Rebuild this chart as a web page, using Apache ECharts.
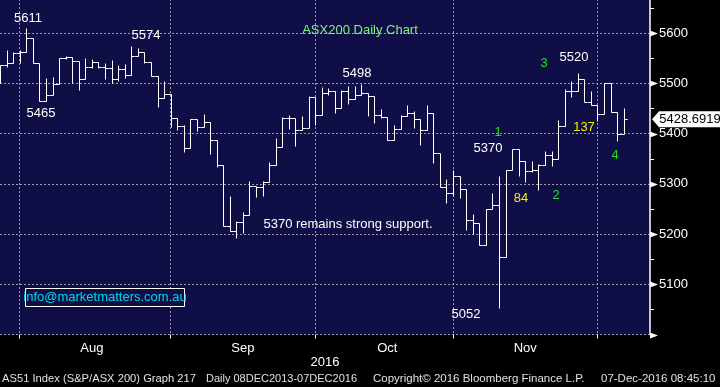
<!DOCTYPE html>
<html><head><meta charset="utf-8">
<script src="https://cdn.jsdelivr.net/npm/echarts@6/dist/echarts.min.js"></script>
<style>html,body{margin:0;padding:0;background:#000}#c{width:720px;height:387px}</style>
</head><body><div id="c"></div>
<script>
const dates = [
 '2016-07-27','2016-07-28','2016-07-29',
 '2016-08-01','2016-08-02','2016-08-03','2016-08-04','2016-08-05','2016-08-08','2016-08-09','2016-08-10','2016-08-11','2016-08-12',
 '2016-08-15','2016-08-16','2016-08-17','2016-08-18','2016-08-19','2016-08-22','2016-08-23','2016-08-24','2016-08-25','2016-08-26',
 '2016-08-29','2016-08-30','2016-08-31',
 '2016-09-01','2016-09-02','2016-09-05','2016-09-06','2016-09-07','2016-09-08','2016-09-09','2016-09-12','2016-09-13','2016-09-14',
 '2016-09-15','2016-09-16','2016-09-19','2016-09-20','2016-09-21','2016-09-22','2016-09-23','2016-09-26','2016-09-27','2016-09-28',
 '2016-09-29','2016-09-30',
 '2016-10-03','2016-10-04','2016-10-05','2016-10-06','2016-10-07','2016-10-10','2016-10-11','2016-10-12','2016-10-13','2016-10-14',
 '2016-10-17','2016-10-18','2016-10-19','2016-10-20','2016-10-21','2016-10-24','2016-10-25','2016-10-26','2016-10-27','2016-10-28',
 '2016-10-31',
 '2016-11-01','2016-11-02','2016-11-03','2016-11-04','2016-11-07','2016-11-08','2016-11-09','2016-11-10','2016-11-11','2016-11-14',
 '2016-11-15','2016-11-16','2016-11-17','2016-11-18','2016-11-21','2016-11-22','2016-11-23','2016-11-24','2016-11-25','2016-11-28',
 '2016-11-29','2016-11-30',
 '2016-12-01','2016-12-02','2016-12-05','2016-12-06','2016-12-07','2016-12-08','2016-12-09','2016-12-12','2016-12-13'
];
const open = [5500,5536,5540,5561,5563,5590,5540,5466,5476,5498, 5550,5553,5545,5508,5533,5543,5533,5530,5508,5528,
 5517,5555,5562,5542,5515,5470,5478,5432,5415,5372, 5430,5413,5424,5387,5338,5217,5207,5225,5238,5296,
 5293,5303,5338,5374,5432,5432,5407,5412,5473,5437, 5480,5485,5452,5485,5469,5477,5480,5475,5437,5433,
 5388,5410,5435,5442,5430,5408,5442,5361,5293,5281, 5316,5290,5228,5223,5179,5250,5257,5155,5328,5370,
 5345,5325,5328,5338,5358,5350,5415,5485,5485,5508, 5463,5458,5440,5500,5443,5400];
const high = [5536,5566,5563,5566,5611,5590,5540,5510,5512,5550, 5555,5553,5545,5550,5548,5543,5540,5546,5536,5538,
 5574,5570,5562,5542,5515,5504,5478,5432,5418,5430, 5430,5440,5424,5387,5338,5276,5226,5243,5306,5296,
 5306,5344,5392,5433,5437,5432,5435,5474,5473,5492, 5490,5485,5486,5495,5495,5498,5480,5475,5449,5433,
 5418,5438,5458,5446,5430,5457,5442,5361,5310,5328, 5316,5290,5240,5223,5250,5281,5315,5328,5370,5370,
 5345,5345,5340,5366,5366,5427,5488,5505,5520,5508, 5485,5458,5500,5500,5443,5452];
const low = [5500,5533,5540,5540,5563,5540,5465,5466,5476,5498, 5548,5500,5486,5508,5530,5530,5508,5500,5505,5510,
 5517,5555,5540,5515,5453,5470,5413,5408,5363,5372, 5405,5413,5359,5333,5216,5206,5193,5203,5238,5273,
 5276,5303,5338,5374,5410,5375,5407,5412,5418,5437, 5476,5442,5452,5460,5469,5477,5435,5421,5431,5388,
 5388,5410,5435,5411,5377,5408,5341,5293,5261,5276, 5272,5208,5201,5178,5179,5250,5052,5155,5328,5315,
 5303,5323,5288,5338,5335,5350,5415,5473,5485,5463, 5457,5425,5440,5443,5385,5400];
const close = [5536,5540,5561,5563,5590,5540,5466,5476,5498,5550, 5553,5545,5508,5533,5543,5533,5530,5508,5528,5517,
 5555,5562,5542,5515,5470,5478,5432,5415,5372,5430, 5413,5424,5387,5338,5217,5207,5225,5238,5296,5293,
 5303,5338,5374,5432,5432,5407,5412,5473,5437,5480, 5485,5452,5485,5469,5477,5480,5475,5437,5433,5388,
 5410,5435,5442,5430,5408,5442,5361,5293,5281,5316, 5290,5228,5223,5179,5250,5257,5155,5328,5370,5345,
 5325,5328,5338,5358,5350,5415,5485,5485,5508,5463, 5458,5440,5500,5443,5400,5428.6919];
const yTicks = [5000,5100,5200,5300,5400,5500,5600];
const yLabelTicks = [5100,5200,5300,5400,5500,5600];
const monthLabelDates = ['2016-08-16','2016-09-16','2016-10-18','2016-11-16'];
const monthNames = {'08':'Aug','09':'Sep','10':'Oct','11':'Nov','12':'Dec'};

const monthStartIdx = [];
dates.forEach((d,i)=>{ if(i>0 && d.slice(5,7)!==dates[i-1].slice(5,7)) monthStartIdx.push(i); });
const labelIdx = monthLabelDates.map(d=>dates.indexOf(d));
const lastClose = close[close.length-1];

const NAVY = '#100e46';
const GRIDC = '#9a9aaa';
const F = '"Liberation Sans", Arial, sans-serif';

const chart = echarts.init(document.getElementById('c'), null, {renderer:'canvas'});

function txt(text, x, y, fill, size, align){
  return {type:'text', x:x, y:y, z:100, silent:true,
    style:{text:text, fill:fill, font:(size||13)+'px '+F, align:align||'center', verticalAlign:'middle'}};
}

const option = {
  backgroundColor:'#000',
  animation:false,
  grid:{left:0, top:-17, width:650, height:351.5, show:true, backgroundColor:NAVY, borderWidth:0,
        containLabel:false, outerBoundsMode:'none'},
  xAxis:{type:'category', data:dates, boundaryGap:false,
    axisLine:{show:false},
    axisTick:{show:true, length:4, interval:(i)=>monthStartIdx.includes(i), lineStyle:{color:'#fff'}},
    axisLabel:{color:'#fff', fontSize:13, fontFamily:F, margin:7, interval:(i)=>labelIdx.includes(i),
      formatter:(v)=>monthNames[v.slice(5,7)]},
    splitLine:{show:true, interval:(i)=>monthStartIdx.includes(i), lineStyle:{color:GRIDC, type:[2,2], width:1}}
  },
  yAxis:{type:'value', position:'right', min:5000, max:5700, interval:100,
    axisLine:{show:true, lineStyle:{color:'#fff', width:1.5}},
    axisTick:{show:true, length:4, lineStyle:{color:'#fff'}},
    minorTick:{show:true, splitNumber:2, length:4, lineStyle:{color:'#fff'}},
    axisLabel:{color:'#fff', fontSize:13, fontFamily:F, margin:9,
      formatter:(v)=> yLabelTicks.includes(v) ? String(v) : ''},
    splitLine:{show:true, lineStyle:{color:GRIDC, type:[2,2], width:1}}
  },
  series:[
    {type:'custom', name:'AS51',
     data: close.map((c,i)=>[i, open[i], high[i], low[i], c]),
     encode:{x:0, y:[1,2,3,4]},
     renderItem:(params, api)=>{
       const i = api.value(0);
       const pO = api.coord([i, api.value(1)]);
       const pH = api.coord([i, api.value(2)]);
       const pL = api.coord([i, api.value(3)]);
       const pC = api.coord([i, api.value(4)]);
       const half = api.size([1,0])[0]/2;
       const sn = (v)=>Math.round(v)+0.5;
       const x = sn(pO[0]);
       const st = {stroke:'#fff', lineWidth:1};
       return {type:'group', children:[
         {type:'line', shape:{x1:x, y1:sn(pH[1]), x2:x, y2:sn(pL[1])}, style:st},
         {type:'line', shape:{x1:x-half, y1:sn(pO[1]), x2:x, y2:sn(pO[1])}, style:st},
         {type:'line', shape:{x1:x, y1:sn(pC[1]), x2:x+half, y2:sn(pC[1])}, style:st}
       ]};
     },
     markPoint:{
       symbol:'path://M0,8 L7,0 L70,0 L70,16 L7,16 Z', symbolSize:[70,16], symbolKeepAspect:false,
       symbolOffset:[37,0], itemStyle:{color:'#fff'}, silent:true,
       label:{show:true, position:'inside', color:'#000', fontSize:13, fontFamily:F, offset:[3,0],
         formatter:(p)=>p.value.toFixed(4)},
       data:[{coord:[dates.length-1, lastClose], value:lastClose}]
     }
    },
    {type:'custom', name:'axisMarks', clip:false, silent:true, z:5,
     data: yTicks.map(v=>[dates.length-1, v]),
     encode:{x:0, y:1},
     renderItem:(params, api)=>{
       const p = api.coord([api.value(0), api.value(1)]);
       const y = Math.round(p[1]) + 0.5;
       const x = p[0];
       return {type:'polygon', shape:{points:[[x, y-3], [x+8, y], [x, y+3]]}, style:{fill:'#fff'}};
     }
    }
  ],
  graphic:[
    txt('5611', 28, 18, '#fff'),
    txt('5465', 41, 113, '#fff'),
    txt('5574', 146, 35, '#fff'),
    txt('ASX200 Daily Chart', 360, 30, '#80f080'),
    txt('5498', 357, 73, '#fff'),
    txt('5520', 574, 57, '#fff'),
    txt('3', 544, 63, '#20e020'),
    txt('1', 498, 132, '#20e020'),
    txt('5370', 488, 148, '#fff'),
    txt('137', 584, 127, '#f0f000'),
    txt('4', 615, 155, '#20e020'),
    txt('84', 521, 198, '#f0f000'),
    txt('2', 556, 195, '#20e020'),
    txt('5370 remains strong support.', 348, 224.5, '#fff'),
    txt('5052', 466, 314, '#fff'),
    {type:'rect', z:99, silent:true, shape:{x:25.5, y:288.5, width:159, height:18},
     style:{stroke:'#fff', fill:NAVY, lineWidth:1}},
    txt('info@marketmatters.com.au', 105, 297.5, '#00d8e8', 13),
    txt('2016', 325, 362, '#fff'),
    txt('AS51 Index (S&P/ASX 200) Graph 217', 2, 379, '#e0e0e0', 11.2, 'left'),
    txt('Daily 08DEC2013-07DEC2016', 206, 379, '#e0e0e0', 11, 'left'),
    txt('Copyright\u00a9 2016 Bloomberg Finance L.P.', 373, 379, '#e0e0e0', 11.5, 'left'),
    txt('07-Dec-2016 08:45:10', 601, 379, '#e0e0e0', 11.5, 'left')
  ]
};
chart.setOption(option);
</script></body></html>
